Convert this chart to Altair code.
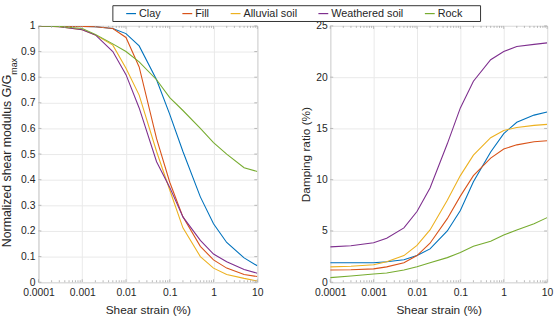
import altair as alt
import pandas as pd

# ---- data ----
strain = [0.0001, 0.0003, 0.001, 0.002, 0.005, 0.01, 0.02, 0.05, 0.1, 0.2, 0.5, 1, 2, 5, 10]
materials = ["Clay", "Fill", "Alluvial soil", "Weathered soil", "Rock"]
colors = ["#0072BD", "#D95319", "#EDB120", "#7E2F8E", "#77AC30"]

g_clay = [1.0, 0.999, 0.998, 0.997, 0.99, 0.97, 0.922, 0.79, 0.655, 0.51, 0.333, 0.228, 0.155, 0.095, 0.064]
g_fill = [1.0, 0.999, 0.998, 0.997, 0.99, 0.955, 0.84, 0.56, 0.39, 0.255, 0.14, 0.087, 0.055, 0.03, 0.022]
g_alluvial = [1.0, 0.997, 0.985, 0.965, 0.925, 0.835, 0.73, 0.51, 0.36, 0.212, 0.1, 0.055, 0.03, 0.015, 0.005]
g_weathered = [1.0, 0.997, 0.985, 0.965, 0.9, 0.81, 0.68, 0.47, 0.37, 0.255, 0.163, 0.11, 0.08, 0.05, 0.035]
g_rock = [1.0, 0.998, 0.99, 0.967, 0.93, 0.9, 0.86, 0.79, 0.72, 0.67, 0.6, 0.545, 0.5, 0.447, 0.432]

d_clay = [1.9, 1.9, 1.9, 2.0, 2.2, 2.6, 3.25, 5.0, 7.0, 9.8, 12.7, 14.5, 15.6, 16.3, 16.6]
d_fill = [1.2, 1.22, 1.3, 1.5, 1.9, 2.6, 3.8, 6.2, 8.4, 10.4, 12.1, 13.0, 13.4, 13.7, 13.8]
d_alluvial = [1.5, 1.55, 1.7, 2.0, 2.6, 3.6, 5.1, 8.0, 10.4, 12.4, 14.1, 14.8, 15.1, 15.3, 15.4]
d_weathered = [3.45, 3.55, 3.85, 4.3, 5.3, 6.9, 9.2, 13.5, 17.0, 19.6, 21.7, 22.5, 23.0, 23.2, 23.35]
d_rock = [0.45, 0.6, 0.8, 0.9, 1.2, 1.5, 1.9, 2.4, 2.9, 3.5, 4.0, 4.6, 5.1, 5.7, 6.3]

x_ticks = [0.0001, 0.001, 0.01, 0.1, 1, 10]
g_ticks = [0, 0.1, 0.2, 0.3, 0.4, 0.5, 0.6, 0.7, 0.8, 0.9, 1]
d_ticks = [0, 5, 10, 15, 20, 25]
x_minor = [m * 10.0 ** k for k in range(-4, 1) for m in range(2, 10)]

g_all = [g_clay, g_fill, g_alluvial, g_weathered, g_rock]
d_all = [d_clay, d_fill, d_alluvial, d_weathered, d_rock]

rows = []
for m, gs, ds in zip(materials, g_all, d_all):
    for s, gv, dv in zip(strain, gs, ds):
        rows.append({"strain": s, "material": m, "G": gv, "D": dv})
df = pd.DataFrame(rows)

TXT = "#262626"
FRAME = "#a8a8a8"
GRID = "#e9e9e9"
W1, W2, H = 222, 220, 260

xscale = alt.Scale(type="log", domain=[0.0001, 10])
gscale = alt.Scale(domain=[0, 1])
dscale = alt.Scale(domain=[0, 25])

# trailing non-breaking spaces (kept by a zero-width char) widen the legend box on the right
rock_pad = "Rock" + "\u00a0" * 5 + "\u200b"
legend = alt.Legend(
    orient="none", legendX=75, legendY=-21, direction="horizontal",
    title="\u00a0", titleOrient="left", titleFontSize=11, titlePadding=10.5,
    symbolType="stroke", symbolSize=100, symbolStrokeWidth=1.2,
    labelFontSize=11, labelOffset=2, columnPadding=18, padding=2.5,
    strokeColor="#333333", fillColor="white", labelColor=TXT,
    labelExpr=f"datum.label === 'Rock' ? '{rock_pad}' : datum.label",
)
color = alt.Color("material:N", scale=alt.Scale(domain=materials, range=colors),
                  sort=materials, legend=legend)

x_axis = alt.Axis(values=x_ticks, format="~g", title="Shear strain (%)", ticks=False,
                  labelFlush=False, labelPadding=5, titlePadding=7, grid=True,
                  gridColor=GRID, domain=False, labelFontSize=10.5, titleFontSize=12,
                  labelColor=TXT, titleColor=TXT, titleFontWeight="normal")
g_axis = alt.Axis(values=g_ticks, format="~g", title=None, ticks=False, labelPadding=3.5,
                  labelFlush=False, labelOverlap=False, grid=True, gridColor=GRID,
                  domain=False, labelFontSize=10.5, labelColor=TXT)
d_axis = alt.Axis(values=d_ticks, format="~g", title="Damping ratio (%)", ticks=False,
                  labelPadding=3, titlePadding=3, labelFlush=False, labelOverlap=False,
                  grid=True, gridColor=GRID, domain=False, labelFontSize=10.5,
                  titleFontSize=12, labelColor=TXT, titleColor=TXT,
                  titleFontWeight="normal")


def tick_layers(field, yticks, yscale, yaxis, width):
    minor_df = pd.DataFrame({"strain": x_minor})
    major_df = pd.DataFrame({"strain": x_ticks})
    y_df = pd.DataFrame({field: yticks})
    layers = []
    for y0, y1 in [(0, 2), (H - 2, H)]:
        layers.append(alt.Chart(minor_df).mark_rule(color=FRAME, strokeWidth=0.8).encode(
            x=alt.X("strain:Q", scale=xscale, axis=x_axis), y=alt.value(y0), y2=alt.value(y1)))
    for y0, y1 in [(0, 3), (H - 3, H)]:
        layers.append(alt.Chart(major_df).mark_rule(color=FRAME, strokeWidth=0.8).encode(
            x=alt.X("strain:Q", scale=xscale, axis=x_axis), y=alt.value(y0), y2=alt.value(y1)))
    for x0, x1 in [(0, 3), (width - 3, width)]:
        layers.append(alt.Chart(y_df).mark_rule(color=FRAME, strokeWidth=0.8).encode(
            y=alt.Y(f"{field}:Q", scale=yscale, axis=yaxis), x=alt.value(x0), x2=alt.value(x1)))
    return layers


left_lines = alt.Chart(df).mark_line(strokeWidth=1.1, clip=True).encode(
    x=alt.X("strain:Q", scale=xscale, axis=x_axis),
    y=alt.Y("G:Q", scale=gscale, axis=g_axis),
    color=color,
    order=alt.Order("strain:Q"),
)

title_main = alt.Chart(pd.DataFrame({"t": ["Normalized shear modulus G/G"]})).mark_text(
    angle=270, align="right", baseline="alphabetic", fontSize=12.5, color=TXT
).encode(text="t:N", x=alt.value(-28), y=alt.value(49.5))

title_sub = alt.Chart(pd.DataFrame({"t": ["max"]})).mark_text(
    angle=270, align="left", baseline="alphabetic", fontSize=9, color=TXT
).encode(text="t:N", x=alt.value(-22), y=alt.value(49.5))

left = alt.layer(left_lines, *tick_layers("G", g_ticks, gscale, g_axis, W1),
                 title_main, title_sub).properties(width=W1, height=H)

right_lines = alt.Chart(df).mark_line(strokeWidth=1.1, clip=True).encode(
    x=alt.X("strain:Q", scale=xscale, axis=x_axis),
    y=alt.Y("D:Q", scale=dscale, axis=d_axis),
    color=color,
    order=alt.Order("strain:Q"),
)

right = alt.layer(right_lines, *tick_layers("D", d_ticks, dscale, d_axis, W2)).properties(
    width=W2, height=H)

chart = alt.hconcat(left, right, spacing=35).properties(
    padding={"left": 0, "top": 2, "right": 0, "bottom": 0},
    background="white",
).configure(font="Liberation Sans").configure_view(stroke=FRAME, strokeWidth=1)

chart.save("out.html", embed_options={"renderer": "svg", "actions": False})
